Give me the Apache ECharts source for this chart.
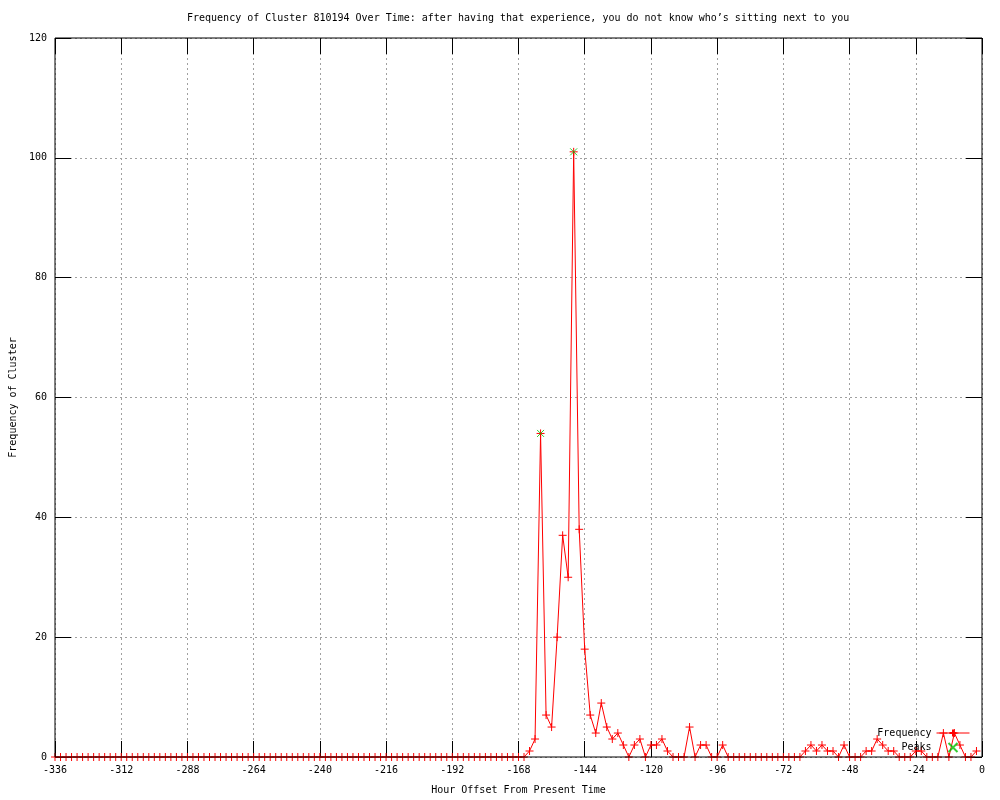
<!DOCTYPE html>
<html>
<head>
<meta charset="utf-8">
<script src="https://cdn.jsdelivr.net/npm/echarts@6/dist/echarts.min.js"></script>
<style>
html,body{margin:0;padding:0;background:#fff;}
#chart{width:1000px;height:800px;}
</style>
</head>
<body>
<div id="chart"></div>
<script>
// Hour offsets (x) of each frequency sample
const hours = [
  -336,-334,-332,-330,-328,-326,-324,-322,-320,-318,-316,-314,
  -312,-310,-308,-306,-304,-302,-300,-298,-296,-294,-292,-290,
  -288,-286,-284,-282,-280,-278,-276,-274,-272,-270,-268,-266,
  -264,-262,-260,-258,-256,-254,-252,-250,-248,-246,-244,-242,
  -240,-238,-236,-234,-232,-230,-228,-226,-224,-222,-220,-218,
  -216,-214,-212,-210,-208,-206,-204,-202,-200,-198,-196,-194,
  -192,-190,-188,-186,-184,-182,-180,-178,-176,-174,-172,-170,
  -168,-166,-164,-162,-160,-158,-156,-154,-152,-150,-148,-146,
  -144,-142,-140,-138,-136,-134,-132,-130,-128,-126,-124,-122,
  -120,-118,-116,-114,-112,-110,-108,-106,-104,-102,-100,-98,
  -96,-94,-92,-90,-88,-86,-84,-82,-80,-78,-76,-74,
  -72,-70,-68,-66,-64,-62,-60,-58,-56,-54,-52,-50,
  -48,-46,-44,-42,-40,-38,-36,-34,-32,-30,-28,-26,
  -24,-22,-20,-18,-16,-14,-12,-10,-8,-6,-4,-2
];
// Frequency of cluster at each hour offset
const frequency = [
  0,0,0,0,0,0,0,0,0,0,0,0,
  0,0,0,0,0,0,0,0,0,0,0,0,
  0,0,0,0,0,0,0,0,0,0,0,0,
  0,0,0,0,0,0,0,0,0,0,0,0,
  0,0,0,0,0,0,0,0,0,0,0,0,
  0,0,0,0,0,0,0,0,0,0,0,0,
  0,0,0,0,0,0,0,0,0,0,0,0,
  0,0,1,3,54,7,5,20,37,30,101,38,
  18,7,4,9,5,3,4,2,0,2,3,0,
  2,2,3,1,0,0,0,5,0,2,2,0,
  0,2,0,0,0,0,0,0,0,0,0,0,
  0,0,0,0,1,2,1,2,1,1,0,2,
  0,0,0,1,1,3,2,1,1,0,0,0,
  1,1,0,0,0,4,0,4,2,0,0,1
];
// Detected peaks
const peakHours = [-160, -148];
const peakValues = [54, 101];

// Axis tick settings
const xTicks = { min: -336, max: 0, interval: 24 };
const yTicks = { min: 0, max: 120, interval: 20 };

const freqData = hours.map((h, i) => [h, frequency[i]]);
const peakData = peakHours.map((h, i) => [h, peakValues[i]]);

const FONT = 'DejaVu Sans Mono';
const PLUS = 'path://M0,5L10,5M5,0L5,10';
const CROSS = 'path://M0,0L10,10M10,0L0,10';

const tickStyle = { show: true, inside: true, length: 16, lineStyle: { color: '#000', width: 1 } };
const gridStyle = { show: true, lineStyle: { color: '#a0a0a0', type: [2, 3], width: 1 } };
const labelStyle = { fontFamily: FONT, fontSize: 10, color: '#000' };

const chart = echarts.init(document.getElementById('chart'), null, { renderer: 'canvas' });
chart.setOption({
  animation: false,
  backgroundColor: '#fff',
  title: {
    text: 'Frequency of Cluster 810194 Over Time: after having that experience, you do not know who\u2019s sitting next to you',
    left: 187,
    top: 13,
    padding: 0,
    textStyle: { fontFamily: FONT, fontSize: 10, fontWeight: 'normal', color: '#000' }
  },
  grid: {
    left: 55, right: 18, top: 38, bottom: 40,
    show: true, borderColor: '#000', borderWidth: 1,
    backgroundColor: 'transparent', z: 10
  },
  legend: {
    orient: 'vertical',
    right: 30,
    top: 728,
    align: 'right',
    itemWidth: 33,
    itemHeight: 9,
    itemGap: 4,
    padding: 0,
    textStyle: labelStyle,
    lineStyle: { width: 1 },
    data: [
      { name: 'Frequency' },
      { name: 'Peaks' }
    ]
  },
  xAxis: [
    {
      type: 'value', position: 'bottom',
      min: xTicks.min, max: xTicks.max, interval: xTicks.interval,
      name: 'Hour Offset From Present Time', nameLocation: 'middle', nameGap: 28,
      nameTextStyle: labelStyle,
      axisLine: { show: false, onZero: false },
      axisTick: tickStyle,
      axisLabel: Object.assign({ margin: 8 }, labelStyle),
      splitLine: gridStyle
    },
    {
      type: 'value', position: 'top',
      min: xTicks.min, max: xTicks.max, interval: xTicks.interval,
      axisLine: { show: false, onZero: false },
      axisTick: tickStyle,
      axisLabel: { show: false },
      splitLine: { show: false }
    }
  ],
  yAxis: [
    {
      type: 'value', position: 'left',
      min: yTicks.min, max: yTicks.max, interval: yTicks.interval,
      name: 'Frequency of Cluster', nameLocation: 'middle', nameGap: 37, nameRotate: 90,
      nameTextStyle: labelStyle,
      axisLine: { show: false, onZero: false },
      axisTick: tickStyle,
      axisLabel: Object.assign({ margin: 8 }, labelStyle),
      splitLine: gridStyle
    },
    {
      type: 'value', position: 'right',
      min: yTicks.min, max: yTicks.max, interval: yTicks.interval,
      axisLine: { show: false, onZero: false },
      axisTick: tickStyle,
      axisLabel: { show: false },
      splitLine: { show: false }
    }
  ],
  series: [
    {
      name: 'Frequency',
      type: 'line',
      xAxisIndex: 0, yAxisIndex: 0,
      data: freqData,
      clip: false,
      showAllSymbol: true,
      symbol: PLUS,
      symbolSize: 8,
      lineStyle: { color: '#ff0000', width: 1 },
      itemStyle: { color: '#ff0000', borderColor: '#ff0000', borderWidth: 1 },
      emphasis: { disabled: true },
      z: 3
    },
    {
      name: 'Peaks',
      type: 'scatter',
      xAxisIndex: 0, yAxisIndex: 0,
      data: peakData,
      clip: false,
      symbol: CROSS,
      symbolSize: 7,
      itemStyle: { color: '#00c000', borderColor: '#00c000', borderWidth: 1 },
      emphasis: { disabled: true },
      z: 4
    }
  ]
});
</script>
</body>
</html>
